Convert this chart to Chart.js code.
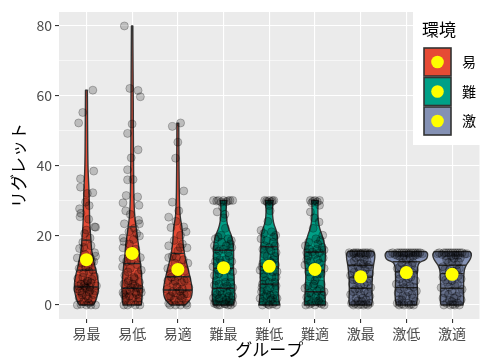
<!DOCTYPE html>
<html>
<head>
<meta charset="utf-8">
<script src="https://cdn.jsdelivr.net/npm/chart.js@4.4.1/dist/chart.umd.min.js"></script>
<style>
  html, body { margin: 0; padding: 0; background: #ffffff; }
  #wrap { width: 486px; height: 358px; }
</style>
</head>
<body>
<div id="wrap"><canvas id="chart" width="486" height="358"></canvas></div>
<script>
// ---- data ----
const groups = ['易最', '易低', '易適', '難最', '難低', '難適', '激最', '激低', '激適'];
const envNames = ['易', '難', '激'];
const groupEnv = [0, 0, 0, 1, 1, 1, 2, 2, 2];
const yTicks = [0, 20, 40, 60, 80];
const yMinorTicks = [10, 30, 50, 70];

// group means (yellow dots)
const means = [13.0, 14.8, 10.2, 10.7, 11.1, 10.2, 8.1, 9.3, 8.8];

// 25 / 50 / 75 % quantiles drawn across each violin
const quartiles = [
  [5.2, 10.0, 18.6],
  [4.8, 11.9, 22.4],
  [4.3, 8.1, 14.8],
  [4.8, 10.5, 15.7],
  [6.0, 11.0, 16.7],
  [3.8, 10.0, 15.2],
  [4.8, 8.0, 11.4],
  [5.0, 9.5, 12.4],
  [4.8, 9.0, 11.4]
];

// density outline per group: [value, half width in category units]
const densityProfiles = [
  [[0,0.15],[1,0.2],[2.5,0.235],[4,0.26],[6,0.265],[8,0.245],[10,0.205],[12,0.17],[14,0.14],[16,0.11],[18.6,0.1],[21,0.085],[24,0.07],[28,0.065],[32,0.058],[36,0.045],[40,0.032],[48,0.026],[55,0.024],[61.6,0.02]],
  [[0,0.2],[2.4,0.215],[4.8,0.226],[7.1,0.215],[9.5,0.2],[11.9,0.18],[14,0.16],[16.7,0.145],[19.5,0.115],[22.4,0.086],[25,0.06],[28,0.045],[32,0.036],[38,0.032],[45,0.028],[55,0.025],[62,0.024],[70,0.018],[80,0.015]],
  [[0,0.16],[1.4,0.275],[3,0.31],[4.3,0.316],[6,0.3],[8.1,0.265],[10.9,0.215],[13,0.17],[14.8,0.145],[17,0.12],[18.6,0.108],[20.5,0.1],[22.4,0.09],[24.5,0.06],[26.2,0.045],[30,0.034],[35,0.028],[42,0.024],[47,0.022],[52.1,0.02]],
  [[0,0.215],[1.9,0.248],[4.8,0.243],[7.5,0.23],[10.5,0.215],[13,0.22],[15.2,0.222],[18.1,0.21],[20,0.172],[21.9,0.11],[23.5,0.078],[24.8,0.066],[26.5,0.056],[28.6,0.06],[29.4,0.068],[30,0.072]],
  [[0,0.226],[1.9,0.205],[5,0.198],[8,0.195],[10.5,0.198],[13.5,0.2],[16.7,0.182],[20,0.178],[21.5,0.15],[22.9,0.108],[24.5,0.08],[26.7,0.068],[28.5,0.075],[30,0.086]],
  [[0,0.233],[1.5,0.225],[3.8,0.215],[6,0.205],[8.6,0.198],[11.5,0.215],[14.3,0.233],[16.5,0.225],[18.1,0.198],[19.8,0.16],[21,0.129],[22.5,0.09],[24.8,0.068],[27,0.062],[29,0.068],[30,0.072]],
  [[0,0.237],[0.9,0.258],[3,0.25],[4.8,0.248],[7.6,0.252],[9.5,0.265],[11.4,0.28],[13,0.305],[14.3,0.312],[15,0.3],[15.4,0.27]],
  [[0,0.215],[1.9,0.248],[4,0.245],[5.7,0.237],[8,0.237],[10.5,0.24],[11.7,0.26],[12.4,0.3],[12.8,0.4],[13.3,0.445],[14,0.462],[14.8,0.468],[15.3,0.43]],
  [[0,0.237],[0.9,0.258],[3,0.252],[4.8,0.252],[7.6,0.252],[9.5,0.262],[10.5,0.276],[11.5,0.31],[12.4,0.36],[13.2,0.4],[14,0.42],[14.8,0.424],[15.3,0.39]]
];

// individual responses per group: [jitter offset, value]
const jitterPoints = [
  [[0.14,61.6],[-0.08,55.2],[-0.17,52.2],[0.16,38.4],[-0.13,36.2],[-0.13,33.8],[0.14,32.2],[0.02,32],[-0.15,27.6],[-0.12,26.3],[-0.14,25.3],[0.05,24.6],[0.18,22.4],[0.2,22.3],[-0.15,16.2],[0.18,15],[-0.2,13.5],[0.2,14],[-0.2,0],[0.2,0],
   [-0.02,29.5],[0.06,28.5],[-0.04,20.5],[0.08,19.2],[-0.08,18],[0.1,17],[0,21.5],[0.12,12.5],[-0.1,12],[0.04,11],[-0.16,10.5],[0.14,10],[-0.06,9.2],[0.18,8.2],[-0.19,7.6],[0.02,7],[0.1,6.4],[-0.12,6],[0.22,5.5],[-0.02,5],[-0.2,4.6],[0.08,4.2],[-0.1,3.5],[0.15,3],[0,2.6],[-0.16,2],[0.12,1.5],[-0.06,1],[0.05,0.5],[-0.12,0.2],[0.1,0],[0,0],[-0.05,5.6],[0.03,6.8],[0.06,3.8],[-0.08,8],[0.16,12.5],[-0.03,14.5],
   [0.01,4.8],[-0.04,6.2],[0.07,5.2],[-0.14,4],[0.12,7.4],[-0.09,2.8],[0.04,1.8],[0.19,4],[-0.17,5.4],[0.06,9.6],[-0.02,10.8],[0.09,13.5],[-0.06,16.5]],
  [[-0.17,80],[-0.05,62.1],[0.13,61.5],[0.18,59.7],[0,51.9],[-0.1,49.2],[0.13,44.5],[-0.02,42.2],[-0.1,38.8],[-0.1,35.9],[-0.13,31.4],[0.12,31],[-0.2,29.3],[0.15,28.6],[-0.14,27],[0.14,24.3],[0.16,23.3],[-0.17,23.3],[0.16,19.8],[-0.2,19.2],[-0.18,18.2],[-0.2,16.4],[0.18,13.6],[-0.2,13.3],[-0.21,11],[0.2,10],[-0.2,3.6],[0.2,3.6],[-0.18,0],[0.17,0],
   [0.02,36],[-0.04,26],[0.05,22],[0.1,20.5],[-0.06,17.5],[0.08,16],[0,14],[-0.12,12.5],[0.12,11.5],[-0.04,10.5],[0.14,9],[-0.16,8.5],[0.04,8],[-0.08,7],[0.16,6.5],[-0.18,6],[0.06,5.5],[-0.02,5],[0.18,4.5],[-0.12,4],[0.1,3],[-0.06,2.5],[0.02,2],[-0.15,1.5],[0.13,1],[-0.03,0.5],[0.07,0],[-0.1,0],[0.09,15],[-0.09,9.5],
   [0.01,6],[-0.05,4.2],[0.08,3.6],[-0.14,2.4],[0.15,2],[-0.1,6.4],[0.05,7.6],[-0.02,12.6],[0.03,18.8],[-0.07,21],[0.11,5],[-0.18,3]],
  [[-0.12,51.2],[0.06,52.2],[0,46.7],[-0.05,42.1],[0.13,32.7],[-0.12,29.5],[-0.2,25.2],[-0.15,22.2],[0.13,22.4],[0.18,21],[-0.2,17],[0.2,16.4],[-0.2,13.6],[0.22,12],[-0.22,10.5],[-0.17,0],[0.2,0],
   [0.02,27],[-0.04,24],[0.06,20],[-0.08,18.5],[0.1,17.5],[0,15.5],[-0.12,14],[0.12,13],[-0.06,12],[0.04,11],[0.16,9.8],[-0.16,9],[0,8.2],[0.2,7.5],[-0.22,7],[0.08,6.5],[-0.1,6],[0.24,5],[-0.24,4.5],[0.04,4],[-0.04,3.4],[0.14,3],[-0.16,2.5],[0.1,2],[-0.08,1.5],[0.02,1],[0.18,0.5],[-0.2,0.5],[-0.05,0],[0.06,0],
   [-0.02,5.2],[0.1,4.6],[-0.12,3.8],[0.2,3.2],[-0.2,2.2],[0.06,2.6],[-0.06,6.8],[0.14,7],[-0.14,8],[0.02,9.4],[-0.03,13.6],[0.05,16.5]],
  [[-0.22,30],[-0.11,30],[0,30],[0.14,30],[0.2,30],[-0.05,29.5],[0.06,29.6],[-0.14,26.7],[-0.18,19],[0.17,18.5],[-0.2,17],[0.18,16.5],[-0.05,20],[0.04,22],[0,25],[-0.1,15.5],[0.1,15],[0,16],[-0.15,14],[0.05,13],[-0.23,11],[0.2,9.6],[-0.05,12],[0.12,11],[-0.1,9],[0.02,8],[-0.16,7],[0.15,6.5],[-0.2,5.7],[0.2,5],[0,5],[-0.08,4],[0.08,3.5],[-0.14,3],[0.12,2.5],[-0.02,2],[0.18,1.5],[-0.18,1],[-0.2,0.5],[0.2,0.5],[0.04,0.3],[-0.08,0],[0.1,0],[-0.12,0],[0.16,0],[0,0.8],
   [-0.15,29.8],[0.1,29.9],[-0.02,28],[0.03,26],[-0.12,19.5],[0.1,19],[0.15,17.5],[-0.16,16],[0.06,17],[-0.04,18],[0.12,14],[-0.08,13],[0.18,12.5],[-0.18,12.5],[0.02,11.5],[-0.12,10],[0.08,10],[-0.2,8.5],[0.16,8],[0.04,6.5],[-0.1,6],[-0.04,3],[0.14,4],[-0.18,3.5],[0.06,1.5],[-0.1,1.8],[0.2,2.5],[-0.22,2],[0.02,0.4],[0.12,1],[-0.16,0.3],[0.08,5.5]],
  [[-0.1,30],[0,30],[0.1,30],[-0.04,29.5],[0.05,29.6],[0.02,27],[-0.03,24],[-0.18,21.4],[0.14,20],[-0.18,19],[0.15,15],[-0.1,17],[0.08,18],[0,16.5],[-0.05,14],[0.1,13],[-0.14,12],[-0.2,10],[0.17,9.6],[0,11],[0.06,8],[-0.08,7],[0.12,6.5],[-0.15,6],[0.02,5],[-0.05,4.2],[-0.17,3.8],[0.17,1.9],[-0.2,1.9],[0.1,3],[-0.1,2.5],[0.04,1.5],[-0.15,0],[0.16,0],[0,0],[-0.06,0.5],[0.08,0.3],[0.13,4.5],[-0.12,9],[0.05,21],
   [-0.06,29.8],[0.07,29.9],[0,28.5],[-0.12,20.5],[0.1,19.5],[-0.06,18.5],[0.13,17],[-0.14,16],[0.04,15.5],[-0.1,14.5],[0.12,14],[0.02,12.5],[-0.16,11],[0.14,11.5],[-0.04,10],[0.08,9.5],[-0.12,8],[0.15,8],[0,6.5],[-0.16,5],[0.15,5.5],[-0.06,3],[0.08,2],[-0.14,1],[0.12,0.8],[0.02,2.8],[-0.02,0.2],[0.06,12]],
  [[-0.1,30],[0.1,30],[-0.07,29.3],[0.1,28.6],[0,30],[-0.1,26.7],[0.09,23.8],[0.17,20],[-0.21,17],[0.2,15.8],[-0.04,22],[0.02,19],[-0.12,16],[0.1,15],[0,14.5],[-0.15,14],[0.06,13],[-0.22,11.5],[0.2,10.5],[-0.05,11],[0.08,9],[-0.1,8],[0,7],[0.14,6],[-0.16,5.5],[-0.22,4.8],[0.2,3.8],[0.05,4],[-0.08,3],[0.12,2],[-0.14,1.5],[-0.2,0],[0.2,0],[0,0],[-0.08,0.5],[0.1,0.6],[0.03,1],[0.06,17.5],
   [-0.04,29.8],[0.05,29.6],[-0.02,25],[0.12,18.5],[-0.14,18],[0.16,16.5],[-0.18,15],[0.04,16],[-0.06,15.2],[0.18,13.5],[-0.18,13],[0.1,12],[-0.1,12.5],[0,10.5],[-0.14,9.5],[0.14,9],[0.04,8],[-0.04,5.5],[0.1,4.5],[-0.12,3.5],[0.16,2.8],[-0.18,2.2],[0.02,2.5],[0.08,1.2],[-0.12,0.2],[0.14,0.3],[-0.02,6]],
  [[-0.25,15],[-0.15,15],[-0.05,15],[0.05,15],[0.15,15],[0.22,15],[-0.2,14.5],[0,14.6],[0.12,14.3],[-0.1,13.5],[0.08,13],[-0.2,12],[0.18,11.5],[0,12],[-0.06,11],[0.1,10],[-0.14,9.5],[0.2,9],[-0.22,8.5],[0.02,8],[-0.08,7],[0.14,6.5],[-0.18,6],[0.22,5],[0,5.5],[-0.12,4.5],[0.08,4],[-0.22,3],[0.2,2.5],[0,3],[-0.1,2],[0.12,1.5],[-0.2,0.5],[0.2,0.5],[-0.05,0],[0.06,0],[-0.16,0],[0.16,0],[0.02,1],
   [-0.1,15],[0.1,15],[0,14.9],[-0.16,14.8],[0.2,14.6],[-0.04,13.8],[0.14,12.8],[-0.14,12.6],[0.06,11.8],[-0.18,10.5],[0.16,10.8],[-0.02,10.2],[0.06,9],[-0.08,8.5],[0.18,7.5],[-0.16,7.2],[0.08,6],[-0.04,4.5],[0.16,3.5],[-0.16,3.8],[0.04,2],[-0.06,1.2],[0.12,0.3],[-0.12,0.4],[0,0.2]],
  [[-0.3,15],[-0.2,15],[-0.1,15],[0,15],[0.1,15],[0.2,15],[0.3,15],[-0.25,14.5],[0.25,14.5],[-0.05,14.2],[0.05,14.6],[0.15,14],[-0.15,14],[0,13],[-0.1,12],[0.12,11.5],[-0.2,10.5],[0.18,10],[0,10],[-0.08,9],[0.1,8],[-0.15,7.5],[0.2,7],[0,6.5],[-0.22,6],[0.08,5.5],[-0.05,5],[0.22,4],[-0.18,3.5],[0.12,3],[0,2.5],[-0.1,1.5],[0.2,1],[-0.2,0.5],[-0.05,0],[0.06,0],[0.16,0],[-0.16,0],
   [-0.15,15],[-0.05,15],[0.05,15],[0.15,15],[0.25,15],[-0.35,14.7],[0.35,14.7],[-0.2,14.2],[0.2,14.4],[0.08,13.6],[-0.08,13.4],[0.14,12.2],[-0.14,11],[0.04,11.2],[-0.04,10.4],[0.14,9.2],[-0.16,8.8],[0.04,7.6],[-0.08,6.4],[0.16,5.2],[-0.14,4.6],[0.04,3.8],[-0.08,2.6],[0.14,2],[-0.16,1.6],[0.04,0.6],[-0.1,0.3],[0.1,0.2]],
  [[-0.28,15],[-0.18,15],[-0.08,15],[0.02,15],[0.12,15],[0.22,15],[0.28,14.6],[-0.22,14.5],[0.08,14.3],[-0.02,14],[0.18,13.5],[-0.12,13],[0,12.5],[0.1,11.5],[-0.2,11],[0.16,10.5],[-0.06,10],[0.06,9],[-0.2,8],[0.2,7.5],[0,7],[-0.1,6.5],[0.12,6],[-0.24,5],[0.22,4.5],[0,4],[-0.08,3],[0.1,2.5],[-0.2,2],[0.2,1.5],[0,1],[-0.12,0.5],[-0.04,0],[0.06,0],[0.16,0],[-0.18,0],
   [-0.13,15],[-0.03,15],[0.07,15],[0.17,15],[-0.32,14.7],[0.32,14.7],[0.13,14.2],[-0.14,14.1],[0.04,13.4],[-0.08,12.2],[0.14,12.4],[-0.16,10.2],[0.1,10],[0.02,9.8],[-0.08,8.8],[0.14,8.4],[-0.14,7.2],[0.06,5.6],[-0.06,5.2],[0.16,3.6],[-0.16,3.4],[0.04,2],[-0.06,1.4],[0.12,0.6],[0.02,0.2]]
];

// ---- styling ----
const envFill = ['#E64B35', '#00A087', '#8491B4'];
const FONT = '"Noto Sans CJK JP", "Noto Sans", sans-serif';
const PANEL_BG = '#EBEBEB';
const OUTLINE = '#333333';

function halfWidthAt(profile, v) {
  for (let k = 1; k < profile.length; k++) {
    const [v0, w0] = profile[k - 1], [v1, w1] = profile[k];
    if (v >= v0 && v <= v1) return w0 + (w1 - w0) * (v - v0) / (v1 - v0);
  }
  return 0;
}

function smoothThrough(ctx, pts) {
  // quadratic curves through segment midpoints
  ctx.lineTo(pts[0][0], pts[0][1]);
  for (let k = 1; k < pts.length - 1; k++) {
    const mx = (pts[k][0] + pts[k + 1][0]) / 2, my = (pts[k][1] + pts[k + 1][1]) / 2;
    ctx.quadraticCurveTo(pts[k][0], pts[k][1], mx, my);
  }
  const last = pts[pts.length - 1];
  ctx.lineTo(last[0], last[1]);
}

const panelBackground = {
  id: 'panelBackground',
  beforeDraw(chart) {
    const { ctx, chartArea: a } = chart;
    ctx.save();
    ctx.fillStyle = PANEL_BG;
    ctx.fillRect(a.left, a.top, a.right - a.left, a.bottom - a.top);
    ctx.restore();
  }
};

const violins = {
  id: 'violins',
  beforeDatasetsDraw(chart) {
    const { ctx, chartArea: a } = chart;
    const xs = chart.scales.x, ys = chart.scales.y;
    ctx.save();
    ctx.beginPath();
    ctx.rect(a.left, a.top, a.right - a.left, a.bottom - a.top);
    ctx.clip();
    densityProfiles.forEach((profile, i) => {
      const right = profile.map(([v, w]) => [xs.getPixelForValue(i + w), ys.getPixelForValue(v)]);
      const left = profile.map(([v, w]) => [xs.getPixelForValue(i - w), ys.getPixelForValue(v)]).reverse();
      ctx.beginPath();
      ctx.moveTo(right[0][0], right[0][1]);
      smoothThrough(ctx, right);
      smoothThrough(ctx, left);
      ctx.closePath();
      ctx.fillStyle = envFill[groupEnv[i]];
      ctx.fill();
      ctx.lineWidth = 1.4;
      ctx.strokeStyle = OUTLINE;
      ctx.lineJoin = 'round';
      ctx.stroke();
      quartiles[i].forEach(q => {
        const w = halfWidthAt(profile, q);
        const py = ys.getPixelForValue(q);
        ctx.beginPath();
        ctx.moveTo(xs.getPixelForValue(i - w), py);
        ctx.lineTo(xs.getPixelForValue(i + w), py);
        ctx.stroke();
      });
    });
    ctx.restore();
  }
};

const titlesAndLegend = {
  id: 'titlesAndLegend',
  afterDraw(chart) {
    const { ctx, chartArea: a } = chart;
    ctx.save();
    ctx.fillStyle = '#000000';
    ctx.font = '17px ' + FONT;
    ctx.textAlign = 'center';
    ctx.textBaseline = 'middle';
    ctx.fillText('グループ', (a.left + a.right) / 2, 350);
    ctx.save();
    ctx.translate(19, (a.top + a.bottom) / 2);
    ctx.rotate(-Math.PI / 2);
    ctx.fillText('リグレット', 0, 0);
    ctx.restore();

    // legend box
    const lx = 413, ly = 12;
    ctx.fillStyle = '#ffffff';
    ctx.fillRect(lx, ly, chart.width - lx, 133);
    ctx.fillStyle = '#000000';
    ctx.textAlign = 'left';
    ctx.font = '17px ' + FONT;
    ctx.fillText('環境', 422, 30);
    envNames.forEach((name, k) => {
      const ky = 48 + k * 29.5;
      ctx.fillStyle = envFill[k];
      ctx.fillRect(424, ky, 27, 28);
      ctx.lineWidth = 1.6;
      ctx.strokeStyle = OUTLINE;
      ctx.strokeRect(424, ky, 27, 28);
      ctx.beginPath();
      ctx.arc(437.5, ky + 14, 6.3, 0, Math.PI * 2);
      ctx.fillStyle = '#FFFF00';
      ctx.fill();
      ctx.fillStyle = '#000000';
      ctx.font = '14px ' + FONT;
      ctx.fillText(name, 462, ky + 14);
    });
    ctx.restore();
  }
};

const jitterData = jitterPoints.flatMap((pts, i) => pts.map(([dx, v]) => ({ x: i + dx, y: v })));
const meanData = means.map((m, i) => ({ x: i, y: m }));

new Chart(document.getElementById('chart'), {
  type: 'scatter',
  data: {
    datasets: [
      {
        label: 'mean',
        data: meanData,
        order: 0,
        pointRadius: 6.5,
        pointHoverRadius: 6.5,
        backgroundColor: '#FFFF00',
        borderWidth: 0
      },
      {
        label: 'responses',
        data: jitterData,
        order: 1,
        pointRadius: 4,
        pointHoverRadius: 4,
        backgroundColor: 'rgba(0,0,0,0.2)',
        borderColor: 'rgba(0,0,0,0.24)',
        borderWidth: 1
      }
    ]
  },
  options: {
    responsive: false,
    animation: false,
    devicePixelRatio: 1,
    layout: { padding: { top: 12, right: 0, left: 0, bottom: 0 } },
    plugins: { legend: { display: false }, tooltip: { enabled: false } },
    scales: {
      x: {
        type: 'linear',
        min: -0.6,
        max: groups.length - 1 + 0.6,
        afterBuildTicks(scale) { scale.ticks = groups.map((_, i) => ({ value: i })); },
        afterFit(scale) { scale.height = 39; },
        border: { display: false },
        grid: { color: '#ffffff', lineWidth: 1.1, drawTicks: true, tickLength: 4, tickColor: OUTLINE, tickWidth: 1.1 },
        ticks: {
          autoSkip: false,
          maxRotation: 0,
          padding: 2,
          color: '#4D4D4D',
          font: { family: FONT, size: 14 },
          callback: (v) => groups[v]
        }
      },
      y: {
        type: 'linear',
        min: -4,
        max: 84,
        afterBuildTicks(scale) {
          scale.ticks = yTicks.concat(yMinorTicks).sort((p, q) => p - q).map(v => ({ value: v }));
        },
        afterFit(scale) { scale.width = 59; },
        border: { display: false },
        grid: {
          color: '#ffffff',
          lineWidth: (c) => (yTicks.includes(c.tick && c.tick.value) ? 1.1 : 0.55),
          drawTicks: true,
          tickLength: 4,
          tickWidth: 1.1,
          tickColor: (c) => (yTicks.includes(c.tick && c.tick.value) ? OUTLINE : 'rgba(0,0,0,0)')
        },
        ticks: {
          padding: 3,
          color: '#4D4D4D',
          font: { family: FONT, size: 14 },
          callback: (v) => (yTicks.includes(v) ? String(v) : '')
        }
      }
    }
  },
  plugins: [panelBackground, violins, titlesAndLegend]
});
</script>
</body>
</html>
